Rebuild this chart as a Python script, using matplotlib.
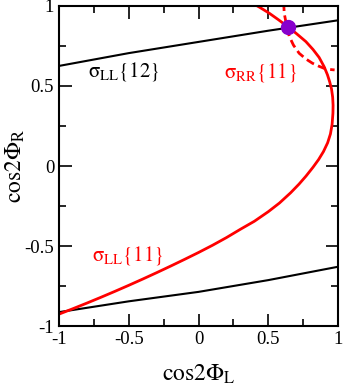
import matplotlib
matplotlib.use("Agg")
import matplotlib.pyplot as plt

plt.rcParams['font.family'] = ['Liberation Serif', 'DejaVu Serif']
plt.rcParams['mathtext.fontset'] = 'stix'
plt.rcParams['axes.unicode_minus'] = False

# sigma_LL{12}, black upper curve
ll12_x = [-1.0, -0.5, 0.0, 0.5, 1.0]
ll12_y = [0.625, 0.705, 0.775, 0.845, 0.91]

# lower black curve
low_x = [-1.0, -0.5, 0.0, 0.5, 1.0]
low_y = [-0.9125, -0.845, -0.786, -0.7125, -0.629]

# sigma_LL{11}, red solid curve
ll11_x = [-1.0, -0.9, -0.8, -0.7, -0.6, -0.5, -0.4, -0.3, -0.2, -0.1, 0.0, 0.1, 0.2,
          0.3, 0.4, 0.5, 0.58, 0.66, 0.72, 0.77, 0.82, 0.86, 0.895, 0.925, 0.945, 0.957,
          0.963, 0.964, 0.961, 0.953, 0.94, 0.924, 0.9, 0.864, 0.82, 0.769, 0.70, 0.638,
          0.57, 0.507, 0.44, 0.41, 0.37]
ll11_y = [-0.925, -0.891, -0.856, -0.820, -0.783, -0.745, -0.706, -0.666, -0.625, -0.583,
          -0.540, -0.495, -0.447, -0.395, -0.345, -0.285, -0.231, -0.167, -0.113, -0.063,
          -0.008, 0.04, 0.09, 0.145, 0.20, 0.26, 0.33, 0.38, 0.43, 0.48, 0.525, 0.569, 0.62,
          0.678, 0.728, 0.777, 0.828, 0.871, 0.915, 0.954, 0.99, 1.005, 1.03]

# sigma_RR{11}, red dashed curve
rr11_x = [0.61, 0.614, 0.63, 0.65, 0.68, 0.721, 0.77, 0.816, 0.86, 0.9, 0.94, 0.975]
rr11_y = [1.02, 0.954, 0.88, 0.81, 0.755, 0.704, 0.668, 0.642, 0.624, 0.61, 0.603, 0.60]

# crossing point
pt_x = [0.638]
pt_y = [0.871]

fig = plt.figure(figsize=(3.45, 3.92), dpi=100)
ax = fig.add_axes([0.171, 0.168, 0.809, 0.817])

ax.plot(ll12_x, ll12_y, color='black', lw=1.5)
ax.plot(low_x, low_y, color='black', lw=1.5)
ax.plot(ll11_x, ll11_y, color='red', lw=2.0)
ax.plot(rr11_x, rr11_y, color='red', lw=2.0, dashes=(3, 1.6))
ax.plot(pt_x, pt_y, 'o', color='#8800cc', ms=10, zorder=5)

ax.text(-0.79, 0.56, r'$\mathrm{\sigma_{LL}\{12\}}$', fontsize=15, color='black')
ax.text(0.18, 0.55, r'$\mathrm{\sigma_{RR}\{11\}}$', fontsize=15, color='red')
ax.text(-0.76, -0.59, r'$\mathrm{\sigma_{LL}\{11\}}$', fontsize=15, color='red')

ax.set_xlim(-1, 1)
ax.set_ylim(-1, 1)
ax.set_xticks([-1, -0.5, 0, 0.5, 1])
ax.set_yticks([-1, -0.5, 0, 0.5, 1])
ax.set_xticklabels(['-1', '-0.5', '0', '0.5', '1'])
ax.set_yticklabels(['-1', '-0.5', '0', '0.5', '1'])
ax.set_xticks([-0.75, -0.25, 0.25, 0.75], minor=True)
ax.set_yticks([-0.75, -0.25, 0.25, 0.75], minor=True)
ax.tick_params(which='both', direction='in', top=True, right=True, width=1.2, labelsize=13.5)
ax.tick_params(which='major', length=9)
ax.tick_params(which='minor', length=5)
for s in ax.spines.values():
    s.set_linewidth(1.5)

ax.set_xlabel(r'$\mathrm{cos2\Phi_L}$', fontsize=17)
ax.set_ylabel(r'$\mathrm{cos2\Phi_R}$', fontsize=17)
ax.xaxis.set_label_coords(0.5, -0.115)
ax.yaxis.set_label_coords(-0.115, 0.5)

fig.savefig('out.png', dpi=100)
